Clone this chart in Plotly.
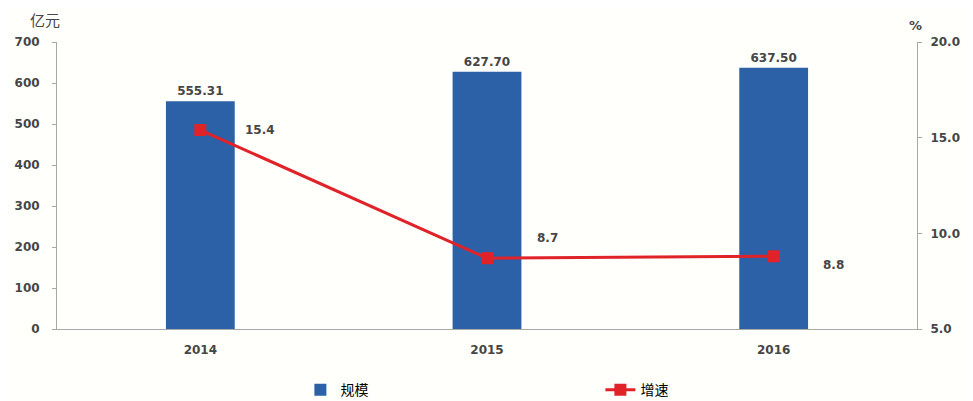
import plotly.graph_objects as go

years = ["2014", "2015", "2016"]
scale = [555.31, 627.70, 637.50]
growth = [15.4, 8.7, 8.8]
growth_label_yshift = [0, 20, -9]

BLUE = "#2c61a7"
RED = "#e02329"
TXT = "#464646"
AXIS = "#a8a8a8"
FONT = "DejaVu Sans"

fig = go.Figure()
fig.add_trace(go.Bar(
    x=years, y=scale, name="规模", marker=dict(color=BLUE, line=dict(width=0)),
    text=[f"{v:.2f}" for v in scale], textposition="outside",
    textfont=dict(family=FONT, size=12, color=TXT, weight="bold"), cliponaxis=False,
))
fig.add_trace(go.Scatter(
    x=years, y=growth, name="增速", yaxis="y2", mode="lines+markers",
    line=dict(color=RED, width=3),
    marker=dict(symbol="square", size=12, color=RED),
))
for i, (g, ys) in enumerate(zip(growth, growth_label_yshift)):
    fig.add_annotation(x=i, y=g, xref="x", yref="y2", text=f"{g:.1f}", showarrow=False,
                       xshift=60, yshift=ys,
                       font=dict(family=FONT, size=12, color=TXT, weight="bold"))

fig.add_annotation(xref="paper", yref="paper", x=-0.034, y=1.035, text="亿元",
                   showarrow=False, yanchor="bottom",
                   font=dict(family="Noto Sans CJK SC", size=15, color=TXT))
fig.add_annotation(xref="paper", yref="paper", x=1.008, y=1.025, text="%",
                   showarrow=False, yanchor="bottom",
                   font=dict(family=FONT, size=13, color=TXT, weight="bold"))

tickfont = dict(family=FONT, size=12, color=TXT, weight="bold")

fig.update_layout(
    width=973, height=401,
    margin=dict(l=49, r=64, t=34, b=80, autoexpand=False),
    paper_bgcolor="#fffffb", plot_bgcolor="#fffffb",
    bargap=0.76,
    font=dict(family=FONT, size=12, color=TXT),
    xaxis=dict(type="category", range=[-0.5, 2.5], showline=True, linecolor=AXIS,
               linewidth=1, ticks="", automargin=False, ticklabelstandoff=10,
               tickfont=tickfont),
    yaxis=dict(range=[0, 700], dtick=100, showgrid=False, zeroline=False, automargin=False,
               showline=True, linecolor=AXIS, ticks="outside", ticklen=4,
               tickcolor=AXIS, ticklabelstandoff=10, tickfont=tickfont),
    yaxis2=dict(range=[5, 20], dtick=5, tickformat=".1f", overlaying="y", side="right",
                showgrid=False, zeroline=False, showline=True, linecolor=AXIS,
                automargin=False, ticks="outside", ticklen=4, tickcolor=AXIS,
                ticklabelstandoff=6, tickfont=tickfont),
    legend=dict(orientation="h", x=0.283, xanchor="left", yref="container", y=0.047,
                yanchor="middle", entrywidth=255, entrywidthmode="pixels",
                font=dict(family="Noto Sans CJK SC", size=14, color="#000000"),
                bgcolor="rgba(0,0,0,0)"),
    showlegend=True,
)

fig.write_html("out.html")
